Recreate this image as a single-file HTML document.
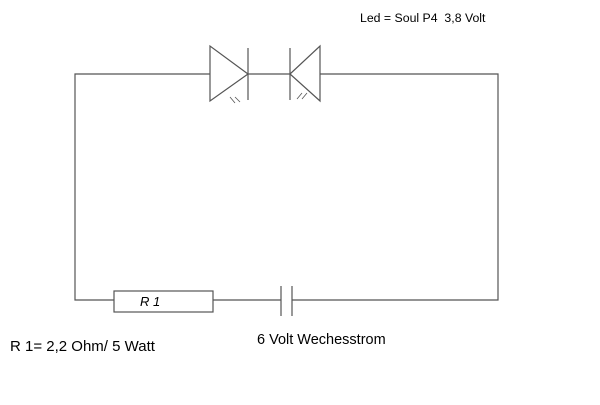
<!DOCTYPE html><html><head><style>body{margin:0;background:#fff}svg text{font-family:"Liberation Sans",sans-serif;fill:#000}</style></head><body>
<svg width="600" height="400" viewBox="0 0 600 400" xmlns="http://www.w3.org/2000/svg">
<g stroke="#555" stroke-width="1.2" fill="none">
<polyline points="210,74 75,74 75,300 114,300"/>
<polyline points="320,74 498,74 498,300 292,300"/>
<line x1="213" y1="300" x2="281" y2="300"/>
<line x1="248" y1="74" x2="290" y2="74"/>
<polygon points="210,46 210,101 248,74"/>
<line x1="248" y1="48" x2="248" y2="100"/>
<polygon points="320,46 320,101 290,74"/>
<line x1="290" y1="48" x2="290" y2="100"/>
<rect x="114" y="291" width="99" height="21"/>
<line x1="281" y1="286" x2="281" y2="316"/>
<line x1="292" y1="286" x2="292" y2="316"/>
<g stroke-width="0.8">
<line x1="230" y1="97" x2="235" y2="103"/><line x1="235" y1="97" x2="240" y2="102"/>
<line x1="302" y1="93" x2="297" y2="99"/><line x1="307" y1="93" x2="302" y2="99"/>
</g></g>
<text x="360" y="22" xml:space="preserve" style="font-size:12.3px">Led = Soul P4  3,8 Volt</text>
<text x="140" y="306" style="font-size:13px;font-style:italic">R 1</text>
<text x="10" y="351" style="font-size:15px">R 1= 2,2 Ohm/ 5 Watt</text>
<text x="257" y="344" style="font-size:14.5px">6 Volt Wechesstrom</text>
</svg></body></html>
